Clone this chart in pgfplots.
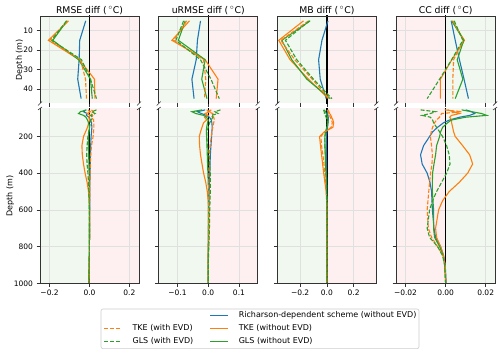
\documentclass[border=0pt]{standalone}
\usepackage{pgfplots}
\pgfplotsset{compat=1.18}
\usepackage{pgfplotstable}
\usepackage{fontspec}
\setmainfont{DejaVu Sans}

\definecolor{tabblue}{HTML}{1F77B4}
\definecolor{taborange}{HTML}{FF7F0E}
\definecolor{tabgreen}{HTML}{2CA02C}
\definecolor{bgG}{RGB}{240,248,240}
\definecolor{bgR}{RGB}{254,240,240}

% ---------- profiles of skill differences (depth in m) ----------
\pgfplotstableread{
d ri tke gls tkeE glsE
5 -0.019 -0.105 -0.113 -0.110 -0.115
15 -0.049 -0.206 -0.184 -0.200 -0.190
25 -0.052 -0.051 -0.054 -0.045 -0.040
35 -0.059 0.025 0.005 -0.020 0.005
45 -0.042 0.027 0.014 -0.015 0.035
}\rmseTop
\pgfplotstableread{
d ri tke gls tkeE glsE
55 -0.020 -0.008 -0.015 0.010 0.035
65 -0.030 0.004 -0.045 0.018 0.012
75 -0.012 -0.012 -0.055 0.006 0.028
85 -0.016 0.004 -0.030 0.016 0.006
95 -0.002 -0.004 -0.018 0.010 0.014
110 0.004 0.000 -0.010 0.020 0.008
125 0.010 -0.004 -0.005 0.022 0.005
150 0.012 -0.010 0.000 0.022 0.000
175 0.010 -0.020 -0.003 0.020 -0.004
200 0.008 -0.030 -0.005 0.018 -0.008
250 0.006 -0.038 -0.005 0.010 -0.012
300 0.005 -0.036 -0.004 0.006 -0.014
350 0.004 -0.030 -0.003 0.004 -0.012
400 0.003 -0.022 -0.002 0.003 -0.008
450 0.002 -0.012 -0.002 0.002 -0.005
500 0.002 -0.005 -0.001 0.001 -0.003
550 0.001 -0.002 -0.001 0.001 -0.002
600 0.001 0.000 0.000 0.000 -0.001
700 0.000 0.000 0.000 0.000 0.000
750 0.000 0.000 0.000 0.000 0.000
800 -0.001 -0.001 -0.001 -0.001 -0.001
850 -0.001 -0.001 -0.001 -0.001 -0.001
900 -0.002 -0.002 -0.002 -0.002 -0.002
1000 -0.003 -0.003 -0.003 -0.003 -0.003
}\rmseBot

\pgfplotstableread{
d ri tke gls tkeE glsE
5 -0.025 -0.061 -0.075 -0.070 -0.080
15 -0.035 -0.118 -0.097 -0.112 -0.105
25 -0.039 -0.010 -0.010 -0.015 -0.025
35 -0.053 0.032 -0.021 -0.008 0.009
45 -0.046 0.026 -0.004 -0.012 0.036
}\urmseTop
\pgfplotstableread{
d ri tke gls tkeE glsE
55 -0.010 -0.005 -0.020 0.010 0.040
65 -0.035 0.005 -0.053 0.000 0.022
75 -0.022 -0.010 -0.040 0.015 0.032
85 -0.006 0.000 -0.015 0.012 0.010
95 0.004 -0.012 -0.005 0.018 0.015
110 0.010 -0.005 0.000 0.020 0.010
125 0.012 -0.015 -0.002 0.018 0.005
150 0.013 -0.020 -0.005 0.015 0.000
175 0.012 -0.025 -0.006 0.012 -0.004
200 0.011 -0.029 -0.005 0.010 -0.005
250 0.009 -0.028 -0.004 0.006 -0.002
300 0.007 -0.025 -0.003 0.004 0.002
350 0.006 -0.020 -0.002 0.003 0.005
400 0.005 -0.015 -0.001 0.002 0.007
450 0.004 -0.008 0.000 0.002 0.007
500 0.003 -0.003 0.001 0.001 0.007
550 0.003 0.000 0.001 0.001 0.006
600 0.002 0.001 0.001 0.001 0.005
700 0.001 0.001 0.001 0.001 0.004
750 0.001 0.001 0.001 0.001 0.003
800 0.001 0.001 0.000 0.000 0.002
850 0.000 0.000 0.000 0.000 0.001
900 0.000 0.000 0.000 0.000 0.000
1000 0.000 0.000 0.000 0.000 0.000
}\urmseBot

\pgfplotstableread{
d ri tke gls tkeE glsE
5 0.008 -0.175 -0.125 -0.137 -0.130
15 -0.037 -0.360 -0.337 -0.345 -0.310
25 -0.062 -0.275 -0.262 -0.240 -0.225
35 -0.050 -0.138 -0.150 -0.110 -0.100
45 -0.005 0.012 0.025 0.018 0.037
}\mbTop
\pgfplotstableread{
d ri tke gls tkeE glsE
55 0.000 0.010 -0.020 0.005 -0.025
65 0.005 0.015 -0.010 0.010 -0.020
75 0.005 0.020 -0.005 0.015 -0.018
85 0.008 0.030 0.000 0.020 -0.012
95 0.010 0.035 0.005 0.025 -0.006
110 0.010 0.045 0.008 0.035 0.000
125 0.008 0.050 0.008 0.040 0.004
150 0.005 0.045 0.000 0.032 0.000
175 0.000 -0.020 -0.010 -0.015 -0.010
200 -0.004 -0.055 -0.015 -0.045 -0.015
250 -0.005 -0.048 -0.015 -0.040 -0.015
300 -0.004 -0.040 -0.012 -0.030 -0.012
350 -0.003 -0.032 -0.010 -0.022 -0.010
400 -0.002 -0.024 -0.007 -0.016 -0.007
450 -0.001 -0.015 -0.004 -0.010 -0.004
500 0.000 -0.006 -0.002 -0.004 -0.002
550 0.000 -0.002 -0.001 -0.001 -0.001
600 0.000 0.000 0.000 0.000 0.000
700 0.000 0.000 0.000 0.000 0.000
800 0.000 0.000 0.000 0.000 0.000
900 0.000 0.000 0.000 0.000 0.000
1000 0.000 0.000 0.000 0.000 0.000
}\mbBot

\pgfplotstableread{
d ri tke gls tkeE glsE
5 0.0028 0.0031 0.0031 0.0036 0.0043
15 0.0048 0.0094 0.0091 0.0089 0.0086
25 0.0069 0.0031 0.0058 0.0040 0.0030
35 0.0092 -0.0026 0.0086 0.0036 -0.0030
45 0.0114 -0.0026 0.0048 0.0036 -0.0092
}\ccTop
\pgfplotstableread{
d ri tke gls tkeE glsE
55 0.0100 0.0010 0.0080 -0.0005 -0.0125
65 0.0130 0.0040 0.0130 0.0080 -0.0050
75 0.0145 0.0070 0.0180 -0.0020 -0.0076
85 0.0120 0.0030 0.0205 -0.0025 -0.0117
95 0.0070 0.0020 0.0100 -0.0030 -0.0076
110 0.0020 0.0030 0.0030 -0.0045 -0.0065
125 -0.0010 0.0030 0.0010 -0.0055 -0.0060
150 -0.0040 0.0035 -0.0015 -0.0065 -0.0045
175 -0.0065 0.0040 -0.0025 -0.0072 -0.0030
200 -0.0080 0.0048 -0.0030 -0.0076 -0.0015
250 -0.0110 0.0085 -0.0045 -0.0070 0.0005
300 -0.0125 0.0120 -0.0050 -0.0066 0.0018
350 -0.0117 0.0135 -0.0058 -0.0068 0.0022
400 -0.0092 0.0110 -0.0065 -0.0075 0.0005
450 -0.0078 0.0068 -0.0066 -0.0080 -0.0020
500 -0.0070 0.0018 -0.0066 -0.0084 -0.0045
550 -0.0068 -0.0015 -0.0063 -0.0088 -0.0065
600 -0.0066 -0.0035 -0.0060 -0.0092 -0.0080
700 -0.0058 -0.0050 -0.0060 -0.0086 -0.0092
750 -0.0050 -0.0045 -0.0055 -0.0070 -0.0080
800 -0.0025 -0.0025 -0.0030 -0.0040 -0.0040
850 -0.0010 -0.0010 -0.0012 -0.0012 -0.0015
900 -0.0002 -0.0003 -0.0005 -0.0003 -0.0005
1000 0.0003 0.0001 0.0000 0.0002 0.0000
}\ccBot

\tikzset{
  riS/.style={tabblue, line width=1.1pt},
  tkeS/.style={taborange, line width=1.1pt},
  glsS/.style={tabgreen, line width=1.1pt},
  tkeD/.style={taborange, line width=1.1pt, dash pattern=on 4pt off 1.8pt},
  glsD/.style={tabgreen, line width=1.1pt, dash pattern=on 4pt off 1.8pt},
  frame/.style={black!80, line width=0.6pt},
  gridline/.style={black!12, line width=0.5pt},
}
\pgfplotsset{
  every axis title shift=0pt,
  panel/.style={
    scale only axis, width=99pt,
    axis line style={draw=none},
    tick align=outside, major tick length=3.5pt,
    tick style={black!80, line width=0.6pt},
    xtick pos=lower, ytick pos=left,
    scaled ticks=false,
    clip mode=individual,
    ticklabel style={font=\fontsize{7.5}{9}\selectfont},
    label style={font=\fontsize{8}{9.6}\selectfont},
    ylabel style={yshift=-7pt},
    title style={font=\fontsize{9.3}{11}\selectfont, anchor=base,
                 at={(0.5,1)}, yshift=2.8pt, inner sep=0pt},
  },
  toppanel/.style={panel, height=87.5pt, ymin=-47.5, ymax=-2.5,
    ytick={-10,-20,-30,-40}, yticklabels={10,20,30,40}},
  botpanel/.style={panel, height=174.8pt, ymin=-1000, ymax=-47.5,
    ytick={-200,-400,-600,-800,-1000}, yticklabels={200,400,600,800,1000}},
}

% split background: #1 left of zero, #2 right of zero
\newcommand{\bgsplit}[2]{%
  \fill[#1] (rel axis cs:0,0) rectangle ({axis cs:0,-20} |- {rel axis cs:1,1});
  \fill[#2] ({axis cs:0,-20} |- {rel axis cs:0,0}) rectangle (rel axis cs:1,1);}
% grid lines drawn above the background, below the profiles
\newcommand{\vgrid}[1]{\pgfplotsinvokeforeach{#1}{%
  \draw[gridline] ({axis cs:##1,-20} |- {rel axis cs:0,0}) -- ({axis cs:##1,-20} |- {rel axis cs:0,1});}}
\newcommand{\hgrid}[1]{\pgfplotsinvokeforeach{#1}{%
  \draw[gridline] ({rel axis cs:0,0} |- {axis cs:0,##1}) -- ({rel axis cs:1,0} |- {axis cs:0,##1});}}
\newcommand{\zeroline}[1]{%
  \addplot[black, line width=1.3pt, forget plot] coordinates {(0,-2) (0,-#1)};}
\newcommand{\profiles}[1]{%
  \addplot[riS]  table[x=ri,   y expr=-\thisrow{d}] {#1};
  \addplot[tkeS] table[x=tke,  y expr=-\thisrow{d}] {#1};
  \addplot[glsS] table[x=gls,  y expr=-\thisrow{d}] {#1};
  \addplot[tkeD] table[x=tkeE, y expr=-\thisrow{d}] {#1};
  \addplot[glsD] table[x=glsE, y expr=-\thisrow{d}] {#1};}
% open-bottom frame with break marks
\newcommand{\topframe}{%
  \draw[frame] (rel axis cs:0,0) -- (rel axis cs:0,1) -- (rel axis cs:1,1) -- (rel axis cs:1,0);
  \draw[frame] (rel axis cs:0,0) ++(-2pt,-2pt) -- ++(4pt,4pt);
  \draw[frame] (rel axis cs:1,0) ++(-2pt,-2pt) -- ++(4pt,4pt);}
% open-top frame with break marks
\newcommand{\botframe}{%
  \draw[frame] (rel axis cs:0,1) -- (rel axis cs:0,0) -- (rel axis cs:1,0) -- (rel axis cs:1,1);
  \draw[frame] (rel axis cs:0,1) ++(-2pt,-1.5pt) -- ++(4pt,3pt);
  \draw[frame] (rel axis cs:1,1) ++(-2pt,-1.5pt) -- ++(4pt,3pt);}

\begin{document}
\begin{tikzpicture}
\useasboundingbox (0pt,0pt) rectangle (500pt,353pt);

% ---------------- RMSE ----------------
\begin{axis}[toppanel, at={(40pt,249.5pt)}, anchor=south west,
  xmin=-0.248, xmax=0.248, xtick={-0.2,0,0.2}, xticklabels={},
  title={RMSE diff (\,$^\circ$C)}, ylabel={Depth (m)}]
  \bgsplit{bgG}{bgR}
  \vgrid{-0.2,0.2}\hgrid{-10,-20,-30,-40}
  \zeroline{48}
  \profiles{\rmseTop}
  \topframe
\end{axis}
\begin{axis}[botpanel, at={(40pt,69.7pt)}, anchor=south west,
  xmin=-0.248, xmax=0.248, xtick={-0.2,0,0.2}, xticklabels={−0.2,0.0,0.2},
  ylabel={Depth (m)}]
  \bgsplit{bgG}{bgR}
  \vgrid{-0.2,0.2}\hgrid{-200,-400,-600,-800}
  \zeroline{1000}
  \profiles{\rmseBot}
  \botframe
\end{axis}

% ---------------- uRMSE ----------------
\begin{axis}[toppanel, at={(158.7pt,249.5pt)}, anchor=south west,
  xmin=-0.161, xmax=0.161, xtick={-0.1,0,0.1}, xticklabels={}, yticklabels={},
  title={uRMSE diff (\,$^\circ$C)}]
  \bgsplit{bgG}{bgR}
  \vgrid{-0.1,0.1}\hgrid{-10,-20,-30,-40}
  \zeroline{48}
  \profiles{\urmseTop}
  \topframe
\end{axis}
\begin{axis}[botpanel, at={(158.7pt,69.7pt)}, anchor=south west,
  xmin=-0.161, xmax=0.161, xtick={-0.1,0,0.1}, xticklabels={−0.1,0.0,0.1},
  yticklabels={}]
  \bgsplit{bgG}{bgR}
  \vgrid{-0.1,0.1}\hgrid{-200,-400,-600,-800}
  \zeroline{1000}
  \profiles{\urmseBot}
  \botframe
\end{axis}

% ---------------- MB ----------------
\begin{axis}[toppanel, at={(277.4pt,249.5pt)}, anchor=south west,
  xmin=-0.37, xmax=0.37, xtick={-0.2,0,0.2}, xticklabels={}, yticklabels={},
  title={MB diff (\,$^\circ$C)}]
  \bgsplit{bgG}{bgR}
  \vgrid{-0.2,0.2}\hgrid{-10,-20,-30,-40}
  \zeroline{48}
  \profiles{\mbTop}
  \topframe
\end{axis}
\begin{axis}[botpanel, at={(277.4pt,69.7pt)}, anchor=south west,
  xmin=-0.37, xmax=0.37, xtick={-0.2,0,0.2}, xticklabels={−0.2,0.0,0.2},
  yticklabels={}]
  \bgsplit{bgG}{bgR}
  \vgrid{-0.2,0.2}\hgrid{-200,-400,-600,-800}
  \zeroline{1000}
  \profiles{\mbBot}
  \botframe
\end{axis}

% ---------------- CC ----------------
\begin{axis}[toppanel, at={(396.1pt,249.5pt)}, anchor=south west,
  xmin=-0.0247, xmax=0.0247, xtick={-0.02,0,0.02}, xticklabels={}, yticklabels={},
  title={CC diff (\,$^\circ$C)}]
  \bgsplit{bgR}{bgG}
  \vgrid{-0.02,0.02}\hgrid{-10,-20,-30,-40}
  \zeroline{48}
  \profiles{\ccTop}
  \topframe
\end{axis}
\begin{axis}[botpanel, at={(396.1pt,69.7pt)}, anchor=south west,
  xmin=-0.0247, xmax=0.0247, xtick={-0.02,0,0.02}, xticklabels={−0.02,0.00,0.02},
  yticklabels={}]
  \bgsplit{bgR}{bgG}
  \vgrid{-0.02,0.02}\hgrid{-200,-400,-600,-800}
  \zeroline{1000}
  \profiles{\ccBot}
  \botframe
\end{axis}

% ---------------- shared legend ----------------
\begin{axis}[at={(0pt,0pt)}, anchor=south west, scale only axis,
  width=500pt, height=353pt, xmin=0, xmax=500, ymin=0, ymax=353, hide axis,
  legend columns=2, legend cell align=left,
  legend style={at={(0.2014,0.1255)}, anchor=north west,
    draw=black!20, fill=white, rounded corners=2pt, line width=0.6pt,
    font=\fontsize{8}{9.6}\selectfont, inner xsep=2.6pt, inner ysep=0.3pt,
    row sep=0pt,
    nodes={inner xsep=0pt, inner ysep=2.7pt, text height=5.9pt, text depth=1.7pt},
    /tikz/every odd column/.append style={column sep=10.5pt},
    /tikz/every even column/.append style={column sep=16.5pt}}]
  \addplot[draw=none, forget plot] coordinates {(0,0) (500,353)};
  \addlegendimage{empty legend}\addlegendentry{}
  \addlegendimage{riS, line width=1.4pt}\addlegendentry{Richarson-dependent scheme (without EVD)}
  \addlegendimage{tkeD, line width=1.4pt}\addlegendentry{TKE (with EVD)}
  \addlegendimage{tkeS, line width=1.4pt}\addlegendentry{TKE (without EVD)}
  \addlegendimage{glsD, line width=1.4pt}\addlegendentry{GLS (with EVD)}
  \addlegendimage{glsS, line width=1.4pt}\addlegendentry{GLS (without EVD)}
\end{axis}
\end{tikzpicture}
\end{document}
